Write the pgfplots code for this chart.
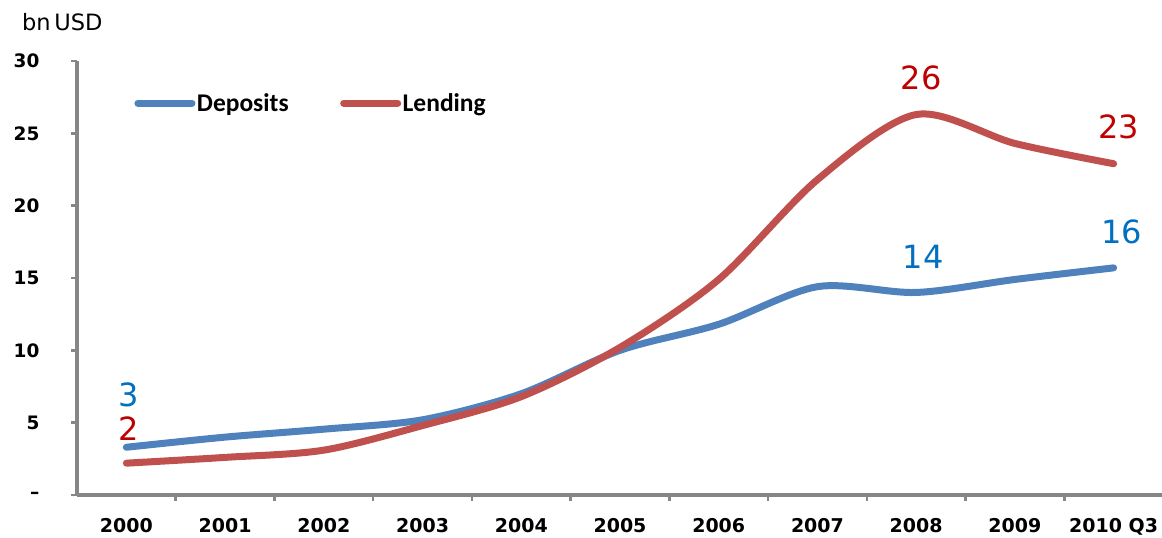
\documentclass[border=0pt]{standalone}
\usepackage{fontspec}
\setmainfont{DejaVu Sans}
\newfontfamily\carlito{Carlito}
\usepackage{pgfplots}
\pgfplotsset{compat=1.18}
\definecolor{depblue}{HTML}{4F81BD}
\definecolor{lendred}{HTML}{C0504D}
\definecolor{lblblue}{HTML}{0070C0}
\definecolor{lblred}{HTML}{C00000}
\definecolor{axgray}{HTML}{868686}
\begin{document}
\begin{tikzpicture}
\useasboundingbox (0,0) rectangle (1162bp,538bp);
\begin{axis}[
  at={(77bp,43bp)}, anchor=south west,
  width=1085bp, height=434bp, scale only axis,
  xmin=-0.5, xmax=10.49, ymin=0, ymax=30,
  clip=false,
  axis x line*=bottom, axis y line*=left,
  axis line style={draw=axgray, line width=3bp, -},
  xtick={0,...,10},
  xticklabels={2000,2001,2002,2003,2004,2005,2006,2007,2008,2009,2010 Q3},
  minor xtick={0.5,1.5,...,9.5},
  ytick={0,5,...,30},
  yticklabels={--,5,10,15,20,25,30},
  tick align=outside,
  major tick length=6bp, minor tick length=6bp,
  major x tick style={draw=none},
  minor x tick style={draw=axgray, line width=2.5bp},
  ytick style={draw=axgray, line width=2.5bp},
  xticklabel style={font=\fontsize{19bp}{22bp}\selectfont\bfseries, anchor=north, yshift=-14bp},
  yticklabel style={font=\fontsize{18.5bp}{22bp}\selectfont\bfseries, anchor=east, xshift=-28bp},
  legend style={draw=none, fill=none, at={(axis description cs:0.05,0.903)}, anchor=west,
    font=\carlito\fontsize{25.5bp}{29bp}\selectfont\bfseries,
    nodes={inner sep=1.5bp}},
  legend columns=2,
  legend cell align=left,
  /tikz/every even column/.append style={column sep=50bp},
  legend image code/.code={\draw[#1, line width=7bp, line cap=round] (0bp,0bp) -- (54bp,0bp);},
]
\addplot[depblue, line width=7bp, line cap=round, smooth, tension=0.5] coordinates {
(0,3.3) (1,4.0) (2,4.55) (3,5.2) (4,7.0) (5,10.0) (6,11.8) (7,14.4) (8,14.0) (9,14.9) (10,15.7)};
\addlegendentry{Deposits}
\addplot[lendred, line width=7bp, line cap=round, smooth, tension=0.5] coordinates {
(0,2.2) (1,2.6) (2,3.1) (3,4.8) (4,6.8) (5,10.2) (6,14.9) (7,21.8) (8,26.3) (9,24.3) (10,22.9)};
\addlegendentry{Lending}
\node[text=lblblue, font=\fontsize{32bp}{36bp}\selectfont, inner sep=0pt] at (axis cs:0.02,6.91) {3};
\node[text=lblred, font=\fontsize{32bp}{36bp}\selectfont, inner sep=0pt] at (axis cs:0.02,4.56) {2};
\node[text=lblblue, font=\fontsize{32bp}{36bp}\selectfont, inner sep=0pt] at (axis cs:8.07,16.47) {14};
\node[text=lblblue, font=\fontsize{32bp}{36bp}\selectfont, inner sep=0pt] at (axis cs:10.08,18.2) {16};
\node[text=lblred, font=\fontsize{32bp}{36bp}\selectfont, inner sep=0pt] at (axis cs:8.05,28.85) {26};
\node[text=lblred, font=\fontsize{32bp}{36bp}\selectfont, inner sep=0pt] at (axis cs:10.05,25.45) {23};
\end{axis}
\node[anchor=west, inner sep=0pt, font=\fontsize{22.5bp}{26bp}\selectfont] at (22bp,516bp) {bn\,USD};
\end{tikzpicture}
\end{document}
